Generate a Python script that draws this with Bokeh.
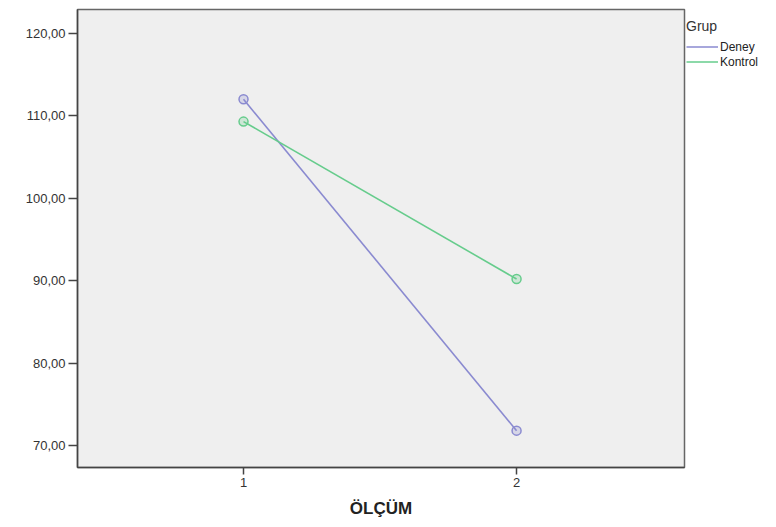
from bokeh.plotting import figure
from bokeh.models import FixedTicker, Legend, LegendItem, Range1d
from bokeh.embed import file_html
from bokeh.resources import INLINE

olcum = [1, 2]
deney = [112.0, 71.8]
kontrol = [109.3, 90.2]
y_ticks = [70, 80, 90, 100, 110, 120]
y_tick_labels = ["70,00", "80,00", "90,00", "100,00", "110,00", "120,00"]
x_ticks = [1, 2]
x_tick_labels = ["1", "2"]
group_names = ["Deney", "Kontrol"]
colors = ["#8a8ad0", "#66cc8c"]

p = figure(frame_width=607, frame_height=458, output_backend="svg", toolbar_location=None,
           x_range=Range1d(0.392, 2.615), y_range=Range1d(67.33, 122.9),
           min_border_left=77, min_border_top=9, min_border_right=80,
           min_border_bottom=55)
p.background_fill_color = "#efefef"
p.border_fill_color = "white"
p.outline_line_color = "#666666"
p.outline_line_width = 1.5
p.grid.visible = False

font = "Liberation Sans"
p.yaxis.ticker = FixedTicker(ticks=y_ticks)
p.yaxis.major_label_overrides = {t: l for t, l in zip(y_ticks, y_tick_labels)}
p.xaxis.ticker = FixedTicker(ticks=x_ticks)
p.xaxis.major_label_overrides = {t: l for t, l in zip(x_ticks, x_tick_labels)}
for ax in (p.xaxis[0], p.yaxis[0]):
    ax.axis_line_color = "#444444"
    ax.axis_line_width = 1.5
    ax.major_tick_line_color = "#444444"
    ax.major_tick_line_width = 1.5
    ax.major_tick_in = 0
    ax.minor_tick_line_color = None
    ax.major_label_text_font = font
    ax.major_label_text_font_size = "13px"
    ax.major_label_text_color = "#333333"
p.yaxis.major_tick_out = 9
p.yaxis.major_label_standoff = 3
p.xaxis.major_tick_out = 7
p.xaxis.major_label_standoff = 3
p.xaxis.axis_label = "ÖLÇÜM"
p.xaxis.axis_label_text_font = font
p.xaxis.axis_label_text_font_style = "bold"
p.xaxis.axis_label_text_font_size = "17px"
p.xaxis.axis_label_text_color = "#222222"
p.xaxis.axis_label_standoff = 9

items = []
for name, vals, c in zip(group_names, [deney, kontrol], colors):
    ln = p.line(olcum, vals, line_color=c, line_width=1.6)
    p.scatter(olcum, vals, marker="circle", size=9, line_color=c, line_width=1.5,
              fill_color=c, fill_alpha=0.25)
    items.append(LegendItem(label=name, renderers=[ln]))

legend = Legend(items=items, title="Grup", location=(2, 398))
legend.title_text_font = font
legend.title_text_font_size = "14px"
legend.title_text_font_style = "normal"
legend.title_text_color = "#333333"
legend.title_standoff = 5
legend.label_text_font = font
legend.label_text_font_size = "12px"
legend.label_text_color = "#222222"
legend.label_standoff = 2
legend.label_height = 15
legend.glyph_height = 15
legend.glyph_width = 32
legend.spacing = 0
legend.padding = 6
legend.margin = 0
legend.border_line_color = None
legend.background_fill_color = None
p.add_layout(legend, "right")

open("out.html", "w").write(file_html(p, INLINE))
